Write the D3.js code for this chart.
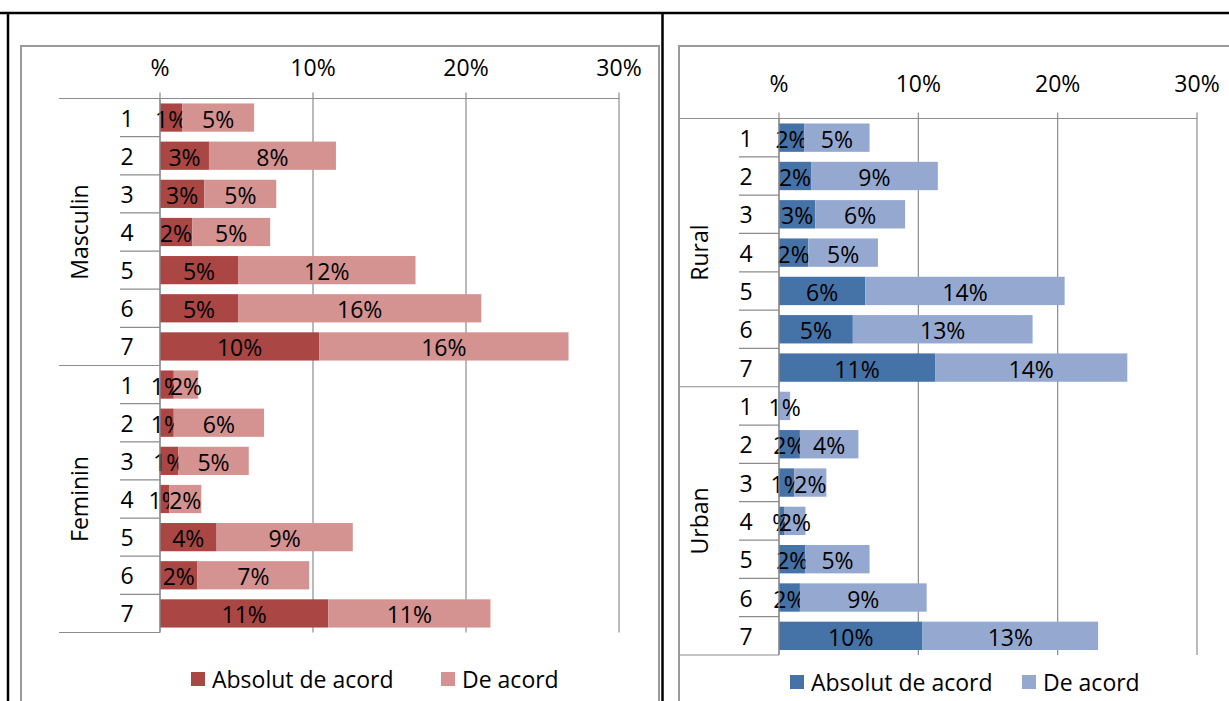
<!DOCTYPE html>
<html>
<head>
<meta charset="utf-8">
<script src="https://cdn.jsdelivr.net/npm/d3@7"></script>
<style>
    body { margin: 0; background: #fff; }
    svg text { font-family: "Open Sans", sans-serif; fill: #000; }
</style>
</head>
<body>
<svg id="chart" width="1229" height="701"></svg>
<script>
// categories
var rows = ["1", "2", "3", "4", "5", "6", "7"];
var genderGroups = ["Masculin", "Feminin"];
var areaGroups = ["Rural", "Urban"];
var seriesNames = ["Absolut de acord", "De acord"];
var tickValues = [0, 0.1, 0.2, 0.3];
var tickLabels = ["%", "10%", "20%", "30%"];

// values (%), rows 1..7 per group
var masculinAbsolut = [1.45, 3.2, 2.9, 2.1, 5.1, 5.1, 10.4];
var masculinDeAcord = [4.7, 8.3, 4.7, 5.1, 11.6, 15.9, 16.3];
var femininAbsolut = [0.9, 0.9, 1.2, 0.6, 3.7, 2.45, 11.0];
var femininDeAcord = [1.6, 5.9, 4.6, 2.1, 8.9, 7.3, 10.6];
var ruralAbsolut = [1.8, 2.3, 2.6, 2.1, 6.2, 5.3, 11.2];
var ruralDeAcord = [4.7, 9.1, 6.45, 5.0, 14.3, 12.9, 13.8];
var urbanAbsolut = [0, 1.5, 1.1, 0.4, 1.9, 1.5, 10.3];
var urbanDeAcord = [0.8, 4.2, 2.3, 1.5, 4.6, 9.1, 12.6];

var svg = d3.select("#chart");
var lineColor = "#8c8c8c";

// outer table lines
svg.append("line").attr("x1", 0).attr("x2", 1229).attr("y1", 13).attr("y2", 13)
    .style("stroke", "#000").style("stroke-width", 2.5);
svg.append("line").attr("x1", 8).attr("x2", 8).attr("y1", 13).attr("y2", 701)
    .style("stroke", "#000").style("stroke-width", 2.5);
svg.append("line").attr("x1", 662.5).attr("x2", 662.5).attr("y1", 13).attr("y2", 701)
    .style("stroke", "#000").style("stroke-width", 2.5);

// like Excel's "#%" format: no digit for values that round to 0
function fmt(v) {
    var r = Math.round(v);
    return (r === 0 ? "" : r) + "%";
}

function drawChart(cfg) {
    var g = svg.append("g");

    // chart frame
    g.append("rect")
        .attr("x", cfg.frame[0]).attr("y", cfg.frame[1])
        .attr("width", cfg.frame[2]).attr("height", cfg.frame[3])
        .style("fill", "none").style("stroke", "#9a9a9a").style("stroke-width", 2);

    var x = d3.scaleLinear().domain([0, 0.3]).range([cfg.x0, cfg.x1]);

    // one band per row, both groups stacked
    var keys = [];
    cfg.groups.forEach(function (grp) {
        rows.forEach(function (r) { keys.push(grp + "|" + r); });
    });
    var y = d3.scaleBand().domain(keys).range([cfg.yTop, cfg.yBottom]).paddingInner(0.26).paddingOuter(0.13);
    var step = y.step();

    var data = [];
    cfg.groups.forEach(function (grp, gi) {
        rows.forEach(function (r, i) {
            data.push({ key: grp + "|" + r, row: r, a: cfg.absolut[gi][i] / 100, b: cfg.deAcord[gi][i] / 100 });
        });
    });

    // gridlines + tick marks
    g.selectAll(".grid")
        .data(tickValues)
        .enter().append("line")
        .attr("x1", function (d) { return x(d); })
        .attr("x2", function (d) { return x(d); })
        .attr("y1", cfg.yTop - 6)
        .attr("y2", cfg.yBottom)
        .style("stroke", lineColor).style("stroke-width", 1.2);

    // top value axis line
    g.append("line").attr("x1", cfg.catLeft).attr("x2", cfg.x1)
        .attr("y1", cfg.yTop).attr("y2", cfg.yTop)
        .style("stroke", lineColor).style("stroke-width", 1.2);

    g.selectAll(".tick-label")
        .data(tickValues)
        .enter().append("text")
        .attr("x", function (d) { return x(d); })
        .attr("y", cfg.tickY)
        .attr("text-anchor", "middle")
        .attr("dominant-baseline", "central")
        .style("font-size", "23px")
        .text(function (d, i) { return tickLabels[i]; });

    // bars
    var stack = d3.stack().keys(["a", "b"])(data);
    var layer = g.selectAll(".layer")
        .data(stack)
        .enter().append("g")
        .style("fill", function (d, i) { return cfg.colors[i]; });

    layer.selectAll("rect")
        .data(function (d) { return d; })
        .enter().append("rect")
        .attr("x", function (d) { return x(d[0]); })
        .attr("y", function (d) { return y(d.data.key); })
        .attr("width", function (d) { return x(d[1]) - x(d[0]); })
        .attr("height", y.bandwidth());

    layer.selectAll("text")
        .data(function (d) { return d.filter(function (p) { return p[1] - p[0] > 0; }); })
        .enter().append("text")
        .attr("x", function (d) { return (x(d[0]) + x(d[1])) / 2; })
        .attr("y", function (d) { return y(d.data.key) + y.bandwidth() / 2 + 1; })
        .attr("text-anchor", "middle")
        .attr("dominant-baseline", "central")
        .style("font-size", "23px")
        .text(function (d) { return fmt((d[1] - d[0]) * 100); });

    // category axis
    g.append("line").attr("x1", cfg.x0).attr("x2", cfg.x0)
        .attr("y1", cfg.yTop).attr("y2", cfg.yBottom)
        .style("stroke", lineColor).style("stroke-width", 1.2);

    keys.forEach(function (k, i) {
        if (i === 0) return;
        var yy = cfg.yTop + i * step;
        var groupEdge = i % rows.length === 0;
        g.append("line")
            .attr("x1", groupEdge ? cfg.catLeft : cfg.sepLeft).attr("x2", cfg.x0)
            .attr("y1", yy).attr("y2", yy)
            .style("stroke", lineColor).style("stroke-width", 1.2);
    });
    g.append("line").attr("x1", cfg.catLeft).attr("x2", cfg.x0)
        .attr("y1", cfg.yBottom).attr("y2", cfg.yBottom)
        .style("stroke", lineColor).style("stroke-width", 1.2);

    g.selectAll(".cat")
        .data(data)
        .enter().append("text")
        .attr("x", cfg.catX)
        .attr("y", function (d) { return y(d.key) + y.bandwidth() / 2; })
        .attr("text-anchor", "middle")
        .attr("dominant-baseline", "central")
        .style("font-size", "23px")
        .text(function (d) { return d.row; });

    cfg.groups.forEach(function (grp, gi) {
        var cy = cfg.yTop + (gi + 0.5) * rows.length * step;
        g.append("text")
            .attr("transform", "translate(" + cfg.groupX + "," + cy + ") rotate(-90)")
            .attr("text-anchor", "middle")
            .attr("dominant-baseline", "central")
            .style("font-size", "23px")
            .text(grp);
    });

    // legend
    var lg = g.append("g");
    seriesNames.forEach(function (s, i) {
        lg.append("rect")
            .attr("x", cfg.legendX[i]).attr("y", cfg.legendY - 7)
            .attr("width", 14).attr("height", 14)
            .style("fill", cfg.colors[i]);
        lg.append("text")
            .attr("x", cfg.legendX[i] + 21).attr("y", cfg.legendY)
            .attr("dominant-baseline", "central")
            .style("font-size", "23px")
            .text(s);
    });
}

drawChart({
    groups: genderGroups,
    absolut: [masculinAbsolut, femininAbsolut],
    deAcord: [masculinDeAcord, femininDeAcord],
    colors: ["#aa4643", "#d49290"],
    frame: [21, 46, 638, 700],
    x0: 160, x1: 619,
    yTop: 98.5, yBottom: 632.5,
    tickY: 67,
    catLeft: 59, sepLeft: 120, catX: 127, groupX: 79,
    legendX: [191, 441], legendY: 679
});

drawChart({
    groups: areaGroups,
    absolut: [ruralAbsolut, urbanAbsolut],
    deAcord: [ruralDeAcord, urbanDeAcord],
    colors: ["#4572a7", "#95a9d0"],
    frame: [679, 46, 600, 700],
    x0: 779, x1: 1197,
    yTop: 118.5, yBottom: 655,
    tickY: 83,
    catLeft: 680, sepLeft: 739, catX: 746, groupX: 699,
    legendX: [790, 1022], legendY: 682
});
</script>
</body>
</html>
